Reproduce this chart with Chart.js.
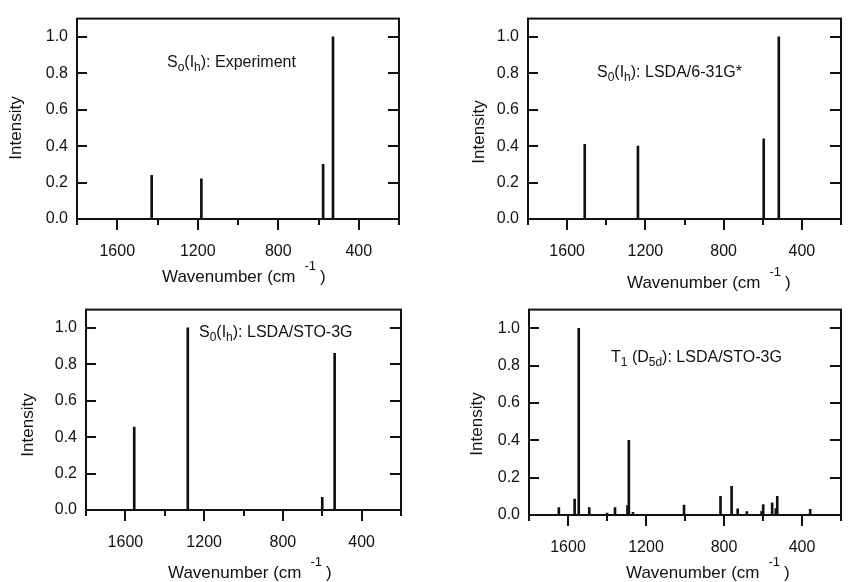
<!DOCTYPE html>
<html>
<head>
<meta charset="utf-8">
<script src="https://cdn.jsdelivr.net/npm/chart.js@4.4.1/dist/chart.umd.min.js"></script>
<style>
    html, body { margin: 0; padding: 0; background: #fff; width: 848px; height: 582px; overflow: hidden; }
    .panel { position: absolute; }
</style>
</head>
<body>
<div class="panel" style="left:0;top:0"><canvas id="c1" width="424" height="291"></canvas></div>
<div class="panel" style="left:424px;top:0"><canvas id="c2" width="440" height="291"></canvas></div>
<div class="panel" style="left:0;top:291px"><canvas id="c3" width="424" height="291"></canvas></div>
<div class="panel" style="left:424px;top:291px"><canvas id="c4" width="440" height="291"></canvas></div>
<script>
// axis ticks
const wnTicks = [1800, 1600, 1400, 1200, 1000, 800, 600, 400, 200];
const wnLabels = [1600, 1200, 800, 400];
const intensityTicks = [0, 0.2, 0.4, 0.6, 0.8, 1.0];

// S0(Ih) experiment
const expWn = [1429, 1182, 577, 528];
const expInt = [0.24, 0.22, 0.30, 1.0];

// S0(Ih) LSDA/6-31G*
const g631Wn = [1510, 1238, 595, 518];
const g631Int = [0.41, 0.40, 0.44, 1.0];

// S0(Ih) LSDA/STO-3G
const sto3gWn = [1555, 1283, 600, 537];
const sto3gInt = [0.455, 1.0, 0.07, 0.86];

// T1(D5d) LSDA/STO-3G
const t1Wn = [1647, 1566, 1545, 1491, 1400, 1359, 1295, 1288, 1267, 1005, 818, 761, 730, 683, 607, 599, 553, 534, 527, 358];
const t1Int = [0.04, 0.085, 1.0, 0.04, 0.01, 0.04, 0.05, 0.40, 0.014, 0.053, 0.10, 0.153, 0.033, 0.018, 0.02, 0.056, 0.065, 0.035, 0.10, 0.03];

const ink = '#111';
const family = '"Liberation Sans", Arial, Helvetica, sans-serif';

const xTitle = [
    { t: 'Wavenumber (cm' },
    { t: '-1', sup: true, gap: 9 },
    { t: ')', gap: 4 },
];

const panels = [
    {
        id: 'c1', area: [77, 13, 399, 219], wn: expWn, int: expInt,
        label: [{ t: 'S' }, { t: 'o', sub: true }, { t: '(I' }, { t: 'h', sub: true }, { t: '): Experiment' }],
        labelAt: [167, 67], yTitleAt: [16, 128], xTitleAt: [162, 282],
    },
    {
        id: 'c2', area: [104, 11, 430, 219], wn: g631Wn, int: g631Int,
        label: [{ t: 'S' }, { t: '0', sub: true }, { t: '(I' }, { t: 'h', sub: true }, { t: '): LSDA/6-31G*' }],
        labelAt: [173, 77], yTitleAt: [55, 132], xTitleAt: [203, 288],
    },
    {
        id: 'c3', area: [86, 15, 409, 219], wn: sto3gWn, int: sto3gInt,
        label: [{ t: 'S' }, { t: '0', sub: true }, { t: '(I' }, { t: 'h', sub: true }, { t: '): LSDA/STO-3G' }],
        labelAt: [199, 46], yTitleAt: [28, 134], xTitleAt: [168, 287],
    },
    {
        id: 'c4', area: [105, 15, 433, 224], wn: t1Wn, int: t1Int,
        label: [{ t: 'T' }, { t: '1', sub: true }, { t: ' (D' }, { t: '5d', sub: true }, { t: '): LSDA/STO-3G' }],
        labelAt: [187, 71], yTitleAt: [53, 133], xTitleAt: [202, 287],
    },
];

const drawRich = (ctx, x, y, parts, size) => {
    let cx = x;
    parts.forEach((p) => {
        const small = p.sub || p.sup;
        const fs = small ? Math.round(size * 0.75) : size;
        const dy = p.sub ? 4 : p.sup ? -12 : 0;
        cx += p.gap || 0;
        ctx.font = `${fs}px ${family}`;
        ctx.fillText(p.t, cx, y + dy);
        cx += ctx.measureText(p.t).width;
    });
};

const framePlugin = {
    id: 'frame',
    afterDraw(chart, args, opts) {
        const { ctx, chartArea: a, scales: { x, y } } = chart;
        ctx.save();
        ctx.strokeStyle = ink;
        ctx.fillStyle = ink;
        ctx.lineWidth = 2;
        ctx.strokeRect(a.left, a.top, a.right - a.left, a.bottom - a.top);

        ctx.beginPath();
        wnTicks.forEach((v) => {
            const px = Math.round(x.getPixelForValue(v));
            const len = wnLabels.includes(v) ? 11 : 6;
            ctx.moveTo(px, a.bottom);
            ctx.lineTo(px, a.bottom + len);
        });
        intensityTicks.forEach((v) => {
            const py = Math.round(y.getPixelForValue(v));
            ctx.moveTo(a.left, py);
            ctx.lineTo(a.left + 10, py);
            ctx.moveTo(a.right - 11, py);
            ctx.lineTo(a.right, py);
        });
        ctx.stroke();

        ctx.textBaseline = 'alphabetic';
        ctx.textAlign = 'left';
        drawRich(ctx, opts.labelAt[0], opts.labelAt[1], opts.label, 16);
        drawRich(ctx, opts.xTitleAt[0], opts.xTitleAt[1], xTitle, 17);

        ctx.translate(opts.yTitleAt[0], opts.yTitleAt[1]);
        ctx.rotate(-Math.PI / 2);
        ctx.textAlign = 'center';
        ctx.textBaseline = 'middle';
        ctx.font = `17px ${family}`;
        ctx.fillText('Intensity', 0, 0);
        ctx.restore();
    },
};

panels.forEach((p) => {
    const canvas = document.getElementById(p.id);
    const [left, top, right, bottom] = p.area;
    new Chart(canvas, {
        type: 'bar',
        data: {
            datasets: [{
                data: p.wn.map((w, i) => ({ x: w, y: p.int[i] })),
                backgroundColor: ink,
                barThickness: 2,
            }],
        },
        options: {
            responsive: false,
            animation: false,
            devicePixelRatio: 1,
            layout: { padding: { left: 0, top, right: canvas.width - right, bottom: 0 } },
            plugins: {
                legend: { display: false },
                tooltip: { enabled: false },
                frame: p,
            },
            scales: {
                x: {
                    type: 'linear',
                    reverse: true,
                    offset: false,
                    min: 200,
                    max: 1800,
                    afterBuildTicks: (s) => { s.ticks = wnTicks.map((v) => ({ value: v })); },
                    afterFit: (s) => { s.height = canvas.height - bottom; },
                    grid: { display: false, drawTicks: false, offset: false },
                    border: { display: false },
                    ticks: {
                        autoSkip: false,
                        maxRotation: 0,
                        padding: 23,
                        color: ink,
                        font: { family, size: 16 },
                        callback: (v) => (wnLabels.includes(v) ? String(v) : ''),
                    },
                },
                y: {
                    min: 0,
                    max: 1.1,
                    afterBuildTicks: (s) => { s.ticks = intensityTicks.map((v) => ({ value: v })); },
                    afterFit: (s) => { s.width = left; },
                    grid: { display: false, drawTicks: false },
                    border: { display: false },
                    ticks: {
                        padding: 9,
                        color: ink,
                        font: { family, size: 16 },
                        callback: (v) => v.toFixed(1),
                    },
                },
            },
        },
        plugins: [framePlugin],
    });
});
</script>
</body>
</html>
